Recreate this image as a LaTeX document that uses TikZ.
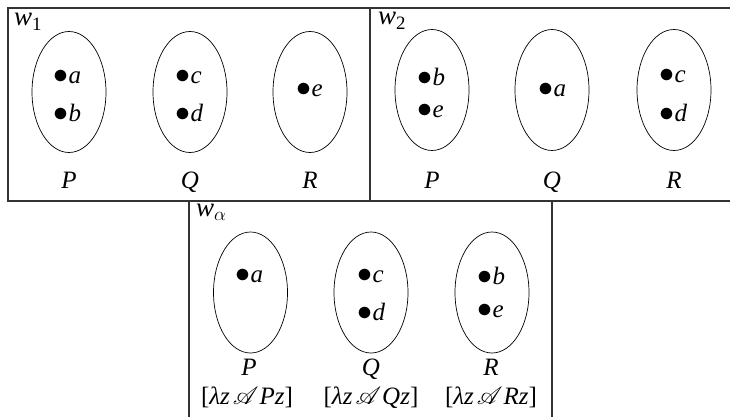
\RequirePackage{fix-cm}
\documentclass[tikz,border=0pt]{standalone}
\usepackage{fontspec}
\setmainfont{Liberation Serif}
\usepackage{mathrsfs}
\usetikzlibrary{shapes.geometric}
\newcommand{\mybig}{\fontsize{25}{23}\selectfont}
\newcommand{\wfont}{\fontsize{27}{30}\selectfont}
\newcommand{\el}[1]{{\fontsize{30}{30}\selectfont$\bullet$}\textit{#1}}
\newcommand{\prop}[1]{[\textit{λz}\kern3pt$\mathscr{A}$\kern1pt\textit{#1z}]}
\begin{document}
\begin{tikzpicture}[x=1pt,y=-1pt,
  every node/.style={font=\mybig},
  world/.style={draw=black!80, line width=1.1pt},
  setshape/.style={draw, ellipse, line width=0.7pt, minimum width=74pt, minimum height=121pt, inner sep=0pt},
  elem/.style={anchor=base west, inner sep=0pt},
  lab/.style={anchor=base, inner sep=0pt},
  wlab/.style={anchor=base west, inner sep=0pt, font=\wfont}]
\useasboundingbox (0,0) rectangle (730,417);
% world boxes
\draw[world] (8,8) rectangle (370,201);
\draw[world] (370,8) rectangle (734,201);
\draw[world] (189,201) rectangle (552,422);
\node[wlab] (lw1) at (14,26) {\textit{w}\textsubscript{1}};
\node[wlab] (lw2) at (378,25) {\textit{w}\textsubscript{2}};
\node[wlab] (lwa) at (196,216) {\textit{w}$_\alpha$};
% w1
\node[setshape] (w1P) at (69,92) {};
\node[setshape] (w1Q) at (190,92) {};
\node[setshape] (w1R) at (310,92) {};
\node[elem] (w1a) at (53.5,83.5) {\el{a}};
\node[elem] (w1b) at (53.5,121.5) {\el{b}};
\node[elem] (w1c) at (175.5,83.5) {\el{c}};
\node[elem] (w1d) at (175.5,121.5) {\el{d}};
\node[elem] (w1e) at (296.5,96.5) {\el{e}};
\node[lab] (w1lP) at (69,188) {\textit{P}};
\node[lab] (w1lQ) at (190,188) {\textit{Q}};
\node[lab] (w1lR) at (310,188) {\textit{R}};
% w2
\node[setshape] (w2P) at (432,90) {};
\node[setshape] (w2Q) at (552,90) {};
\node[setshape] (w2R) at (674,90) {};
\node[elem] (w2b) at (417.5,85.5) {\el{b}};
\node[elem] (w2e) at (417.5,117.5) {\el{e}};
\node[elem] (w2a) at (538.5,96.5) {\el{a}};
\node[elem] (w2c) at (659.5,82.5) {\el{c}};
\node[elem] (w2d) at (659.5,121.5) {\el{d}};
\node[lab] (w2lP) at (432,188) {\textit{P}};
\node[lab] (w2lQ) at (552,188) {\textit{Q}};
\node[lab] (w2lR) at (674,188) {\textit{R}};
% w alpha
\node[setshape] (waP) at (250.5,292.5) {};
\node[setshape] (waQ) at (371,292.5) {};
\node[setshape] (waR) at (492,292.5) {};
\node[elem] (waa) at (235.5,282.5) {\el{a}};
\node[elem] (wac) at (357.5,282.5) {\el{c}};
\node[elem] (wad) at (357.5,320.5) {\el{d}};
\node[elem] (wab) at (477.5,284.5) {\el{b}};
\node[elem] (wae) at (477.5,317.5) {\el{e}};
\node[lab] (walP) at (249,375) {\textit{P}};
\node[lab] (walQ) at (371,375) {\textit{Q}};
\node[lab] (walR) at (491,375) {\textit{R}};
\node[lab] (waxP) at (247,404) {\prop{P}};
\node[lab] (waxQ) at (371,404) {\prop{Q}};
\node[lab] (waxR) at (491,404) {\prop{R}};
\end{tikzpicture}
\end{document}
